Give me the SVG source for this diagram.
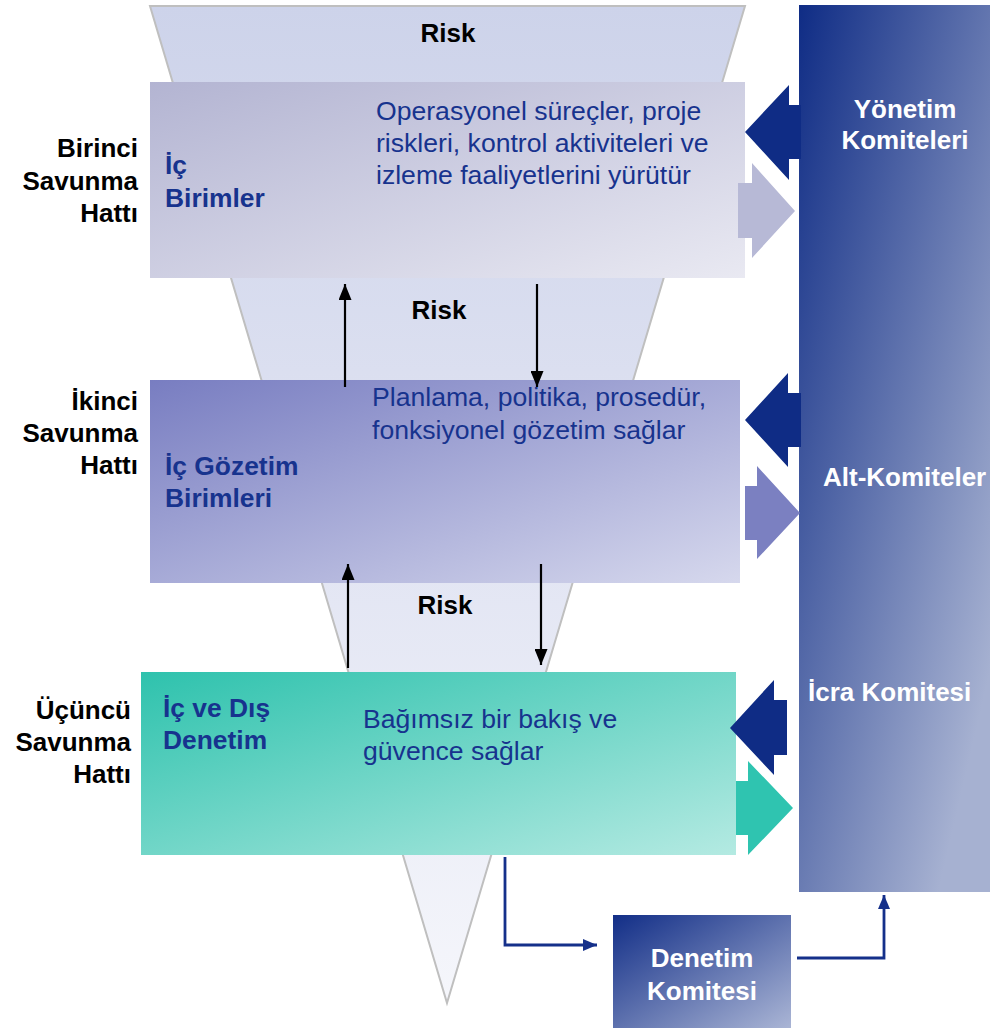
<svg xmlns="http://www.w3.org/2000/svg" width="990" height="1028" viewBox="0 0 990 1028">
<defs>
<style>
text{font-family:"Liberation Sans",Arial,sans-serif;font-size:26px}
.b{font-weight:bold}
.blk{fill:#000}
.wht{fill:#fff;font-weight:bold}
.blu{fill:#17338E;font-size:26.6px}
.lbl{fill:#17338E;font-weight:bold;font-size:26.4px}
.ln{stroke:#000;stroke-width:2.2;fill:none}
.cn{stroke:#15308A;stroke-width:2.8;fill:none}
</style>
<linearGradient id="gF" x1="0" y1="0" x2="0" y2="1">
<stop offset="0" stop-color="#CDD3EA"/><stop offset="0.55" stop-color="#E2E5F3"/><stop offset="1" stop-color="#F5F6FB"/>
</linearGradient>
<linearGradient id="gB1" x1="0" y1="0" x2="1" y2="1">
<stop offset="0" stop-color="#B3B4D2"/><stop offset="1" stop-color="#E9E9F2"/>
</linearGradient>
<linearGradient id="gB2" x1="0" y1="0" x2="1" y2="1">
<stop offset="0" stop-color="#787DC1"/><stop offset="1" stop-color="#D6D8ED"/>
</linearGradient>
<linearGradient id="gB3" x1="0" y1="0" x2="1" y2="1">
<stop offset="0" stop-color="#2EC2AD"/><stop offset="1" stop-color="#B4EAE2"/>
</linearGradient>
<linearGradient id="gR" gradientUnits="userSpaceOnUse" x1="799" y1="5" x2="1128" y2="82">
<stop offset="0" stop-color="#0F2C85"/><stop offset="1" stop-color="#A6B1D1"/>
</linearGradient>
<linearGradient id="gD" x1="0" y1="0" x2="1" y2="1">
<stop offset="0" stop-color="#122E87"/><stop offset="1" stop-color="#AAB5D5"/>
</linearGradient>
<marker id="ah" viewBox="0 0 10 10" refX="10" refY="5" markerWidth="16" markerHeight="13" markerUnits="userSpaceOnUse" orient="auto" preserveAspectRatio="none">
<path d="M0,0 L10,5 L0,10 z" fill="#000"/>
</marker>
<marker id="ahb" viewBox="0 0 10 10" refX="10" refY="5" markerWidth="14" markerHeight="12" markerUnits="userSpaceOnUse" orient="auto" preserveAspectRatio="none">
<path d="M0,0 L10,5 L0,10 z" fill="#15308A"/>
</marker>
</defs>

<g id="funnel">
<polygon points="150,6 745,6 447,1003" fill="url(#gF)" stroke="#BFBFBF" stroke-width="2"/>
<text class="b blk" x="448" y="42" text-anchor="middle">Risk</text>
<text class="b blk" x="439" y="319" text-anchor="middle">Risk</text>
<text class="b blk" x="445" y="614" text-anchor="middle">Risk</text>
</g>

<g id="line-labels" class="b blk" text-anchor="end">
<text x="138" y="157">Birinci</text>
<text x="138" y="190">Savunma</text>
<text x="138" y="222">Hattı</text>
<text x="138" y="410">İkinci</text>
<text x="138" y="442">Savunma</text>
<text x="138" y="474">Hattı</text>
<text x="131" y="719">Üçüncü</text>
<text x="131" y="751">Savunma</text>
<text x="131" y="783">Hattı</text>
</g>

<g id="node-ic-birimler">
<rect x="150" y="82" width="595" height="196" fill="url(#gB1)"/>
<text class="lbl" x="165" y="174">İç</text>
<text class="lbl" x="165" y="207">Birimler</text>
<text class="blu" x="376" y="120">Operasyonel süreçler, proje</text>
<text class="blu" x="376" y="152">riskleri, kontrol aktiviteleri ve</text>
<text class="blu" x="376" y="184">izleme faaliyetlerini yürütür</text>
</g>

<g id="node-ic-gozetim">
<rect x="150" y="380" width="590" height="203" fill="url(#gB2)"/>
<text class="lbl" x="165" y="475">İç Gözetim</text>
<text class="lbl" x="165" y="507">Birimleri</text>
<text class="blu" x="372" y="406">Planlama, politika, prosedür,</text>
<text class="blu" x="372" y="439">fonksiyonel gözetim sağlar</text>
</g>

<g id="node-denetim">
<rect x="141" y="672" width="595" height="183" fill="url(#gB3)"/>
<text class="lbl" x="163" y="717">İç ve Dış</text>
<text class="lbl" x="163" y="749">Denetim</text>
<text class="blu" x="363" y="728">Bağımsız bir bakış ve</text>
<text class="blu" x="363" y="760">güvence sağlar</text>
</g>

<g id="node-komiteler">
<rect x="799" y="5" width="191" height="887" fill="url(#gR)"/>
<text class="wht" x="905" y="118" text-anchor="middle">Yönetim</text>
<text class="wht" x="905" y="149" text-anchor="middle">Komiteleri</text>
<text class="wht" x="823" y="486">Alt-Komiteler</text>
<text class="wht" x="808" y="701">İcra Komitesi</text>
</g>

<g id="node-denetim-komitesi">
<rect x="613" y="915" width="178" height="113" fill="url(#gD)"/>
<text class="wht" x="702" y="967" text-anchor="middle">Denetim</text>
<text class="wht" x="702" y="1000" text-anchor="middle">Komitesi</text>
</g>

<g id="connectors">
<polygon points="745,132 789,85 789,105 801,105 801,159 789,159 789,180" fill="#0F2C85"/>
<polygon points="738,183 752,183 752,163 795,211 752,258 752,238 738,238" fill="#B7B9D6"/>
<polygon points="745,420 788,373 788,393 801,393 801,447 788,447 788,467" fill="#0F2C85"/>
<polygon points="745,486 757,486 757,466 800,513 757,559 757,540 745,540" fill="#7B80C1"/>
<polygon points="730,728 774,680 774,700 787,700 787,755 774,755 774,775" fill="#0F2C85"/>
<polygon points="736,781 748,781 748,761 793,808 748,855 748,835 736,835" fill="#2FC4B0"/>
<path class="ln" d="M345,387 V284" marker-end="url(#ah)"/>
<path class="ln" d="M537,284 V387" marker-end="url(#ah)"/>
<path class="ln" d="M348,668 V564" marker-end="url(#ah)"/>
<path class="ln" d="M541,564 V665" marker-end="url(#ah)"/>
<path class="cn" d="M505,857 V945 H597" marker-end="url(#ahb)"/>
<path class="cn" d="M797,958 H884 V895" marker-end="url(#ahb)"/>
</g>
</svg>
